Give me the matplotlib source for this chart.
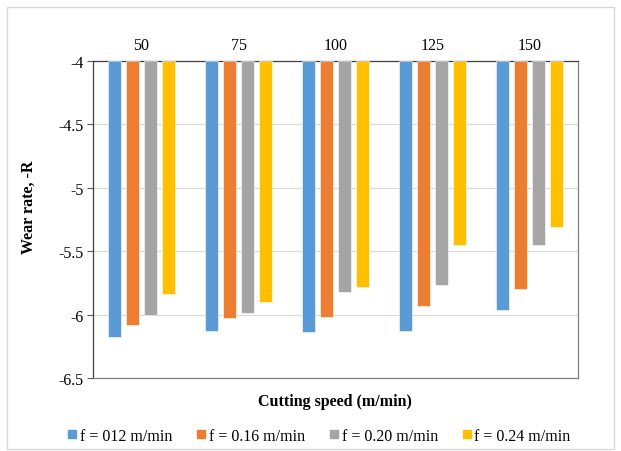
import numpy as np
import matplotlib.pyplot as plt
from matplotlib.patches import Rectangle

speeds = ["50", "75", "100", "125", "150"]
series = ["f = 012 m/min", "f = 0.16 m/min", "f = 0.20 m/min", "f = 0.24 m/min"]
f012 = [-6.18, -6.13, -6.14, -6.13, -5.96]
f016 = [-6.08, -6.03, -6.02, -5.93, -5.80]
f020 = [-6.00, -5.99, -5.82, -5.77, -5.45]
f024 = [-5.84, -5.90, -5.78, -5.45, -5.31]
colors = ["#5B9BD5", "#ED7D31", "#A5A5A5", "#FFC000"]

plt.rcParams['font.family'] = ['Liberation Serif', 'DejaVu Serif']

fig = plt.figure(figsize=(6.21, 4.52), dpi=100)
ax = fig.add_axes([0.1498, 0.1615, 0.781, 0.7013])

x = np.arange(len(speeds))
pitch = 0.185
for i, (vals, name, c) in enumerate(zip([f012, f016, f020, f024], series, colors)):
    vals = np.array(vals)
    ax.bar(x + (i - 1.5) * pitch, vals + 4, bottom=-4, width=0.14,
           color=c, edgecolor="white", linewidth=0.4, label=name, zorder=3)

ax.set_xlim(-0.5, len(speeds) - 0.5)
ax.set_ylim(-6.5, -4)
ax.set_yticks([-6.5, -6, -5.5, -5, -4.5, -4])
ax.set_yticklabels(["-6.5", "-6", "-5.5", "-5", "-4.5", "-4"])
ax.set_xticks(x)
ax.set_xticklabels(speeds)
ax.xaxis.tick_top()
ax.tick_params(axis='x', length=0, pad=6, labelsize=11.5)
ax.tick_params(axis='y', length=4, width=0.8, color="#595959", labelsize=11.5, pad=3)
ax.grid(axis='y', color="#d9d9d9", linewidth=0.8, zorder=0)
for s in ax.spines.values():
    s.set_color("#7f7f7f")
    s.set_linewidth(0.9)
ax.spines['top'].set_color("#404040")
ax.spines['left'].set_color("#404040")

fig.text(0.047, 0.542, "Wear rate, -R", rotation=90, ha='center', va='center',
         fontsize=11.5, fontweight='bold')
fig.text(0.540, 0.111, "Cutting speed (m/min)", ha='center', va='center',
         fontsize=11.5, fontweight='bold')

handles = [plt.Line2D([], [], marker='s', linestyle='', color=c, markersize=6) for c in colors]
fig.legend(handles, series, loc='center', bbox_to_anchor=(0.512, 0.033), ncol=4,
           frameon=False, fontsize=11.5, handletextpad=0.1, columnspacing=1.4,
           handlelength=0.8)

fig.patches.append(Rectangle((0.011, 0.004), 0.978, 0.978, transform=fig.transFigure,
                             fill=False, edgecolor="#d9d9d9", linewidth=1))

fig.savefig("out.png", dpi=100)
